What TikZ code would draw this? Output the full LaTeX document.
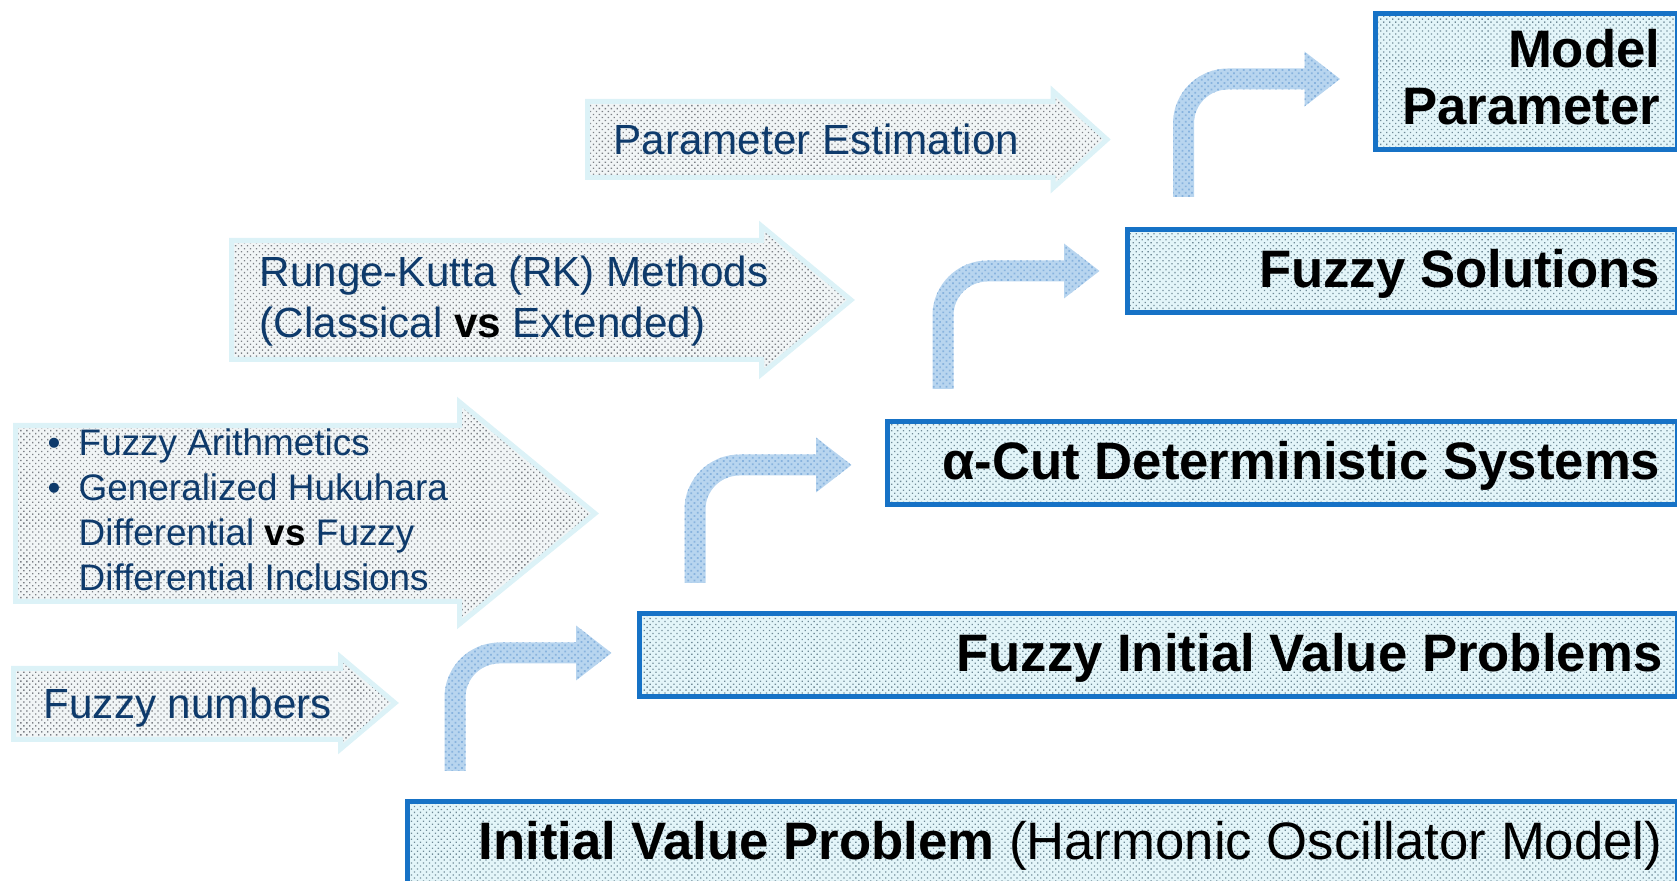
\documentclass[tikz,border=0pt]{standalone}
\usepackage{fontspec}
\setmainfont{Liberation Sans}
\usetikzlibrary{patterns.meta}
\definecolor{boxblue}{HTML}{1672C6}
\definecolor{boxbg}{HTML}{E3F5F9}
\definecolor{boxdot}{HTML}{6F8A97}
\definecolor{arrowline}{HTML}{DCF2F7}
\definecolor{arrowbg}{HTML}{F1F5F6}
\definecolor{arrowdot}{HTML}{7C8086}
\definecolor{bentbg}{HTML}{B8D5EF}
\definecolor{bentdot}{HTML}{88B3DE}
\definecolor{textblue}{HTML}{0E3A6B}
\tikzset{
  fbox/.style={rectangle, draw=boxblue, line width=0.5mm, inner sep=0pt,
    preaction={fill=boxbg}, pattern={Dots[distance=1.2pt,radius=0.26pt,angle=45]},
    pattern color=boxdot, anchor=north west},
  blockarrow/.style={draw=arrowline, line width=0.5mm, line join=miter,
    preaction={fill=arrowbg}, pattern={Dots[distance=1.2pt,radius=0.27pt,angle=45]},
    pattern color=arrowdot},
  bentfill/.style={preaction={fill=bentbg}, pattern={Dots[distance=1.3pt,radius=0.35pt,angle=45]},
    pattern color=bentdot},
  boxtxt/.style={inner sep=0pt, anchor=base east, font=\fontsize{15}{16.2}\selectfont\bfseries, text=black},
  arrtxt/.style={inner sep=0pt, anchor=base west, font=\fontsize{12}{14.4}\selectfont, text=textblue},
  bultxt/.style={inner sep=0pt, anchor=base west, font=\fontsize{10.5}{12.8}\selectfont, text=textblue},
  bentarrow/.pic={
    \path[bentfill] (-10.5,0) -- (-10.5,-73.5)
      .. controls (-10.5,-103.9) and (14.1,-128.5) .. (44.5,-128.5)
      -- (121,-128.5) -- (121,-145.5) -- (156.5,-118) -- (121,-90.5) -- (121,-107.5)
      -- (44.5,-107.5) .. controls (25.7,-107.5) and (10.5,-92.3) .. (10.5,-73.5)
      -- (10.5,0) -- cycle;
  }
}
\begin{document}
\begin{tikzpicture}[x=0.1mm,y=-0.1mm]
\useasboundingbox (0,0) rectangle (1677,881);
\clip (0,0) rectangle (1677,881);

% left block arrows
\path[blockarrow] (587.5,101.5) -- (1053,101.5) -- (1053,91) -- (1107,139.5) -- (1053,188) -- (1053,177.5) -- (587.5,177.5) -- cycle;
\path[blockarrow] (231.5,240.5) -- (761.5,240.5) -- (761.5,226) -- (851,300) -- (761.5,374) -- (761.5,359.5) -- (231.5,359.5) -- cycle;
\path[blockarrow] (15.5,425.5) -- (459.5,425.5) -- (459.5,402) -- (595,513.5) -- (459.5,624) -- (459.5,601.5) -- (15.5,601.5) -- cycle;
\path[blockarrow] (13.5,668.5) -- (340.5,668.5) -- (340.5,657) -- (395,703) -- (340.5,749) -- (340.5,739.5) -- (13.5,739.5) -- cycle;

% bent arrows
\pic at (1183.5,197) {bentarrow};
\pic at (943,389) {bentarrow};
\pic at (695,583) {bentarrow};
\pic at (455,771) {bentarrow};

% boxes
\node[fbox, minimum width=30.25mm, minimum height=13.6mm] (mp) at (1372.5,11.5) {};
\node[fbox, minimum width=55.05mm, minimum height=8.3mm] (fs) at (1124.5,227.5) {};
\node[fbox, minimum width=79.05mm, minimum height=8.3mm] (ac) at (884.5,419.5) {};
\node[fbox, minimum width=103.85mm, minimum height=8.3mm] (fivp) at (636.5,611.5) {};
\node[fbox, minimum width=127.05mm, minimum height=10mm] (ivp) at (404.5,799.5) {};

% box texts
\node[boxtxt] (mpt1) at (1661,68) {Model};
\node[boxtxt] (mpt2) at (1661,125) {Parameter};
\node[boxtxt] (fst) at (1661,288) {Fuzzy Solutions};
\node[boxtxt] (act) at (1661,480) {α-Cut Deterministic Systems};
\node[boxtxt] (fivpt) at (1663,672) {Fuzzy Initial Value Problems};
\node[boxtxt] (ivpt) at (1663,860) {Initial Value Problem {\mdseries (Harmonic Oscillator Model)}};

% arrow texts
\node[arrtxt] (pet) at (613,155) {Parameter Estimation};
\node[arrtxt] (rk1) at (259,287) {Runge-Kutta (RK) Methods};
\node[arrtxt] (rk2) at (259,338) {(Classical {\color{black}\bfseries vs} Extended)};
\node[arrtxt] (fnt) at (43,719) {Fuzzy numbers};
\node[bultxt] (bu1) at (47,456) {•};
\node[bultxt] (bu2) at (47,501) {•};
\node[bultxt] (bl1) at (78,456) {Fuzzy Arithmetics};
\node[bultxt] (bl2) at (78,501) {Generalized Hukuhara};
\node[bultxt] (bl3) at (78,546) {Differential {\color{black}\bfseries vs} Fuzzy};
\node[bultxt] (bl4) at (78,591) {Differential Inclusions};
\end{tikzpicture}
\end{document}
